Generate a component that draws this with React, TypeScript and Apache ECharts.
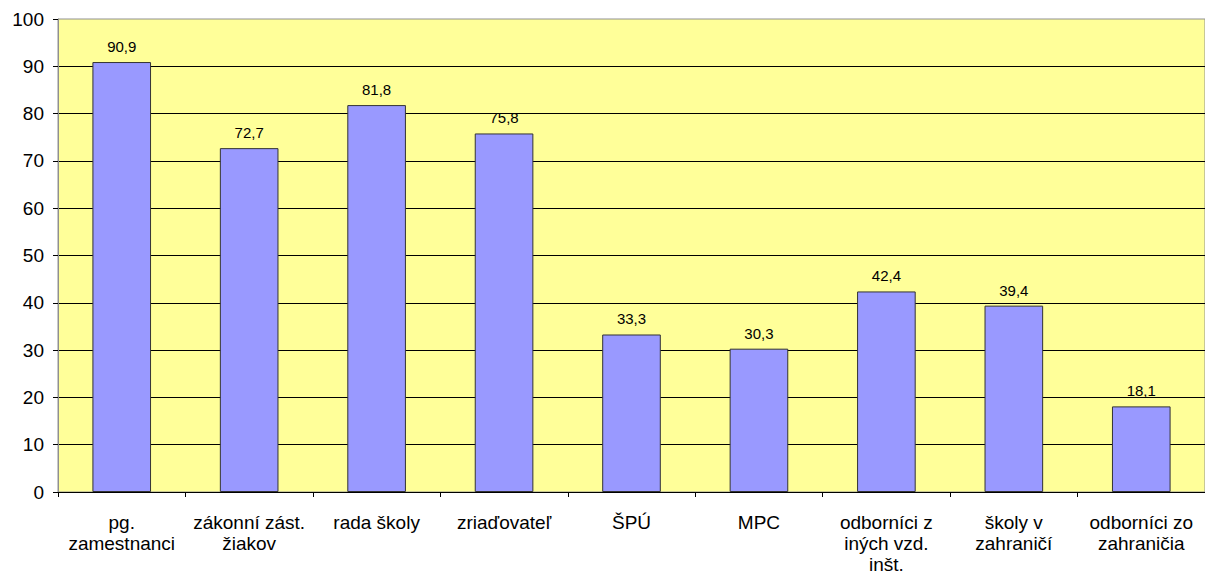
import React, { useEffect, useRef } from "react";
import * as echarts from "echarts";

const categories = [
  "pg.\nzamestnanci",
  "zákonní zást.\nžiakov",
  "rada školy",
  "zriaďovateľ",
  "ŠPÚ",
  "MPC",
  "odborníci z\niných vzd.\ninšt.",
  "školy v\nzahraničí",
  "odborníci zo\nzahraničia",
];
const values = [90.9, 72.7, 81.8, 75.8, 33.3, 30.3, 42.4, 39.4, 18.1];
const yTicks = [0, 10, 20, 30, 40, 50, 60, 70, 80, 90, 100];

export default function App() {
  const ref = useRef<HTMLDivElement>(null);
  useEffect(() => {
    if (!ref.current) return;
    const chart = echarts.init(ref.current, null, { renderer: "svg" });
    chart.setOption({
      animation: false,
      textStyle: { fontFamily: "Liberation Sans, Arial, sans-serif" },
      grid: {
        left: 58,
        right: 0,
        top: 19,
        bottom: 80,
        show: true,
        backgroundColor: "#FFFF99",
        borderColor: "#909090",
        borderWidth: 1,
      },
      xAxis: {
        type: "category",
        data: categories,
        axisLine: { lineStyle: { color: "#000000", width: 1 } },
        axisTick: { show: true, length: 5, lineStyle: { color: "#000000" } },
        axisLabel: {
          color: "#000000",
          fontSize: 19,
          lineHeight: 21,
          margin: 20,
          interval: 0,
        },
      },
      yAxis: {
        type: "value",
        min: yTicks[0],
        max: yTicks[yTicks.length - 1],
        interval: 10,
        axisLine: { show: true, lineStyle: { color: "#909090", width: 1 } },
        axisTick: { show: true, length: 5, lineStyle: { color: "#000000" } },
        axisLabel: { color: "#000000", fontSize: 19, margin: 14 },
        splitLine: {
          show: true,
          showMaxLine: false,
          lineStyle: { color: "#000000", width: 1 },
        },
      },
      series: [
        {
          type: "bar",
          data: values,
          barCategoryGap: "54%",
          itemStyle: { color: "#9999FF", borderColor: "#333333", borderWidth: 1 },
          label: {
            show: true,
            position: "top",
            distance: 8,
            color: "#000000",
            fontSize: 15,
            formatter: (p: any) => String(p.value).replace(".", ","),
          },
        },
      ],
    });
    return () => chart.dispose();
  }, []);
  return (
    <div
      ref={ref}
      style={{ position: "absolute", left: 0, top: 0, width: 1205, height: 575, background: "#ffffff" }}
    />
  );
}
